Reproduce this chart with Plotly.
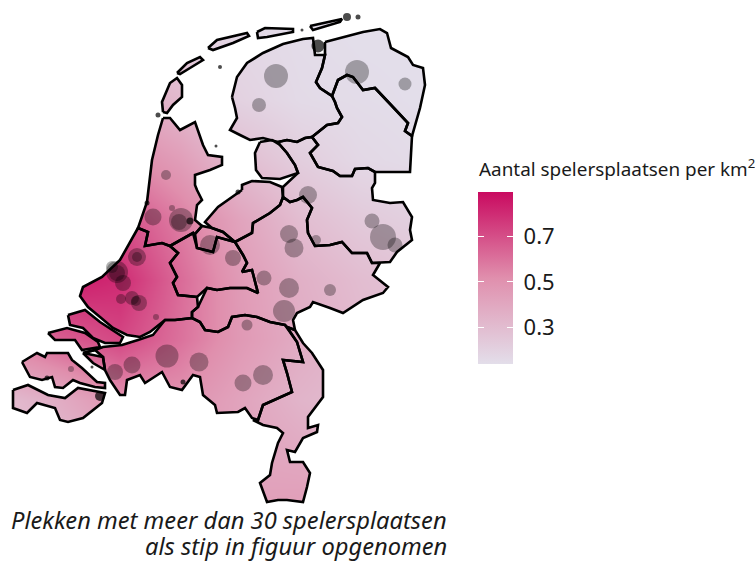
import plotly.graph_objects as go

# Map outlines in map units
friesland = [(232,97),(237,77),(247,63),(263,53),(283,44),(303,39),(313,38),(315,55),(325,55),(322,68),(316,82),(320,88),(332,96),(335,102),(337,108),(342,117),(338,123),(327,125),(317,133),(312,137),(305,138),(297,142),(287,140),(278,142),(263,138),(250,140),(240,135),(230,130),(237,118),(235,108)]
groningen = [(325,42),(343,37),(363,32),(380,29),(387,33),(391,48),(408,57),(413,65),(423,68),(425,85),(420,108),(412,136),(405,131),(408,123),(393,107),(375,88),(363,90),(353,77),(347,75),(338,80),(332,96),(320,88),(316,82),(322,68),(325,55)]
drenthe = [(332,96),(338,80),(347,75),(353,77),(363,90),(375,88),(393,107),(408,123),(405,131),(412,136),(410,172),(393,172),(375,172),(368,168),(355,169),(352,176),(340,176),(333,171),(318,167),(310,153),(318,145),(312,137),(317,133),(327,125),(338,123),(342,117),(337,108),(335,102)]
noordoostpolder = [(260,142),(255,153),(256,170),(262,178),(280,179),(298,173),(295,165),(287,153),(280,145),(272,140)]
flevoland = [(242,190),(242,185),(252,181),(270,182),(282,187),(283,197),(280,205),(270,213),(253,223),(252,233),(235,242),(223,232),(212,228),(205,222),(218,207)]
overijssel = [(283,187),(298,173),(295,165),(287,153),(280,145),(278,142),(287,140),(297,142),(305,138),(312,137),(318,145),(310,153),(318,167),(333,171),(340,176),(352,176),(355,169),(368,168),(375,172),(375,183),(372,188),(373,200),(390,203),(403,202),(412,217),(410,230),(412,240),(397,252),(390,262),(372,263),(367,253),(352,253),(342,242),(330,245),(315,246),(308,233),(307,220),(312,208),(303,197),(297,200),(290,202),(283,197)]
gelderland = [(235,242),(252,233),(253,223),(270,213),(280,205),(283,197),(290,202),(297,200),(303,197),(312,208),(307,220),(308,233),(315,246),(330,245),(342,242),(352,253),(367,253),(372,263),(380,263),(373,275),(388,287),(383,293),(363,300),(343,313),(330,308),(313,302),(310,307),(297,313),(293,320),(295,330),(287,327),(285,325),(270,322),(257,317),(245,315),(232,317),(228,327),(218,332),(205,330),(200,322),(192,318),(192,312),(198,307),(207,288),(217,290),(230,288),(247,288),(258,293),(252,270),(242,272),(247,263),(243,255)]
utrecht = [(170,246),(193,233),(197,248),(213,252),(217,237),(235,242),(243,255),(247,263),(242,272),(252,270),(258,293),(247,288),(230,288),(217,290),(207,288),(197,297),(178,295),(173,283),(177,277),(170,263),(178,253)]
gooi = [(195,234),(202,226),(212,228),(223,232),(235,242),(217,237),(213,252),(197,248)]
noord_holland = [(163,118),(170,118),(180,130),(195,122),(203,145),(208,155),(222,157),(222,165),(210,170),(195,175),(195,185),(197,190),(202,200),(197,205),(195,220),(202,226),(195,234),(193,233),(170,246),(162,243),(145,246),(148,232),(138,228),(147,202),(152,160),(158,135)]
zuid_holland = [(138,228),(148,232),(145,246),(162,243),(170,246),(178,253),(170,263),(177,277),(173,283),(178,295),(197,297),(198,307),(192,312),(192,318),(175,320),(165,320),(150,332),(140,337),(127,335),(113,328),(100,317),(88,307),(80,296),(83,287),(102,277),(120,260)]
voorne = [(68,315),(85,310),(100,322),(123,337),(120,343),(105,343),(93,338),(83,328),(70,325)]
overflakkee = [(48,333),(67,328),(85,333),(98,342),(100,347),(82,350),(75,340),(55,340)]
noord_brabant = [(83,353),(95,350),(103,347),(122,345),(138,340),(153,335),(165,320),(175,320),(192,318),(200,322),(205,330),(218,332),(228,327),(232,317),(245,315),(257,317),(270,322),(285,325),(297,342),(303,362),(283,360),(287,373),(292,392),(263,405),(258,420),(252,418),(245,408),(238,412),(217,413),(215,405),(203,395),(200,377),(193,375),(182,390),(170,387),(162,372),(145,383),(140,375),(127,380),(125,395),(120,395),(110,380),(105,370),(103,357)]
limburg = [(287,327),(295,330),(303,343),(312,353),(323,370),(323,397),(308,417),(308,428),(318,425),(317,432),(303,438),(295,452),(287,450),(290,462),(303,462),(310,473),(307,487),(303,502),(287,500),(278,500),(267,502),(260,483),(270,475),(272,463),(278,443),(283,433),(277,428),(263,425),(253,420),(258,420),(263,405),(292,392),(287,373),(283,360),(303,362),(297,342)]
walcheren = [(22,362),(37,353),(45,357),(47,353),(68,353),(72,360),(82,368),(93,378),(97,382),(105,383),(105,388),(95,387),(80,383),(73,380),(63,388),(55,387),(52,377),(42,380),(30,377)]
tholen = [(83,353),(95,350),(103,357),(105,370),(93,363)]
zeeuws_vlaanderen = [(13,390),(28,385),(48,395),(65,398),(78,388),(88,390),(105,393),(102,403),(83,418),(68,422),(60,420),(55,408),(37,403),(27,413),(13,408)]
texel = [(163,112),(162,102),(170,83),(177,78),(182,85),(182,97),(173,105),(167,113)]
vlieland = [(177,73),(187,63),(200,57),(203,60),(190,68),(180,74)]
terschelling = [(208,48),(217,40),(247,33),(249,36),(233,43),(213,50)]
ameland = [(257,32),(265,28),(293,29),(293,32),(267,37),(258,38)]
schiermonnikoog = [(310,26),(342,19),(340,22),(313,30)]
land_parts = [friesland, groningen, drenthe, noordoostpolder, flevoland, overijssel, gelderland, utrecht, gooi,
              noord_holland, zuid_holland, voorne, overflakkee, noord_brabant, limburg, walcheren, tholen,
              zeeuws_vlaanderen, texel, vlieland, terschelling, ameland, schiermonnikoog]

islet_x = [347,358,220,158,302,216,183,100,47,147,190,318,238,92]
islet_y = [17,17,67,115,30,146,382,396,378,203,221,46,192,367]
islet_size = [8,5,4,5,3,3,5,10,5,5,7,13,5,3]

# Density field
grid_x = [0,60,120,180,240,300,360,430]
grid_y = [30,100,160,220,280,340,400,460,520]
density = [
    [.30,.28,.24,.22,.17,.15,.14,.14],
    [.40,.42,.40,.32,.20,.16,.15,.14],
    [.55,.58,.55,.45,.30,.22,.17,.15],
    [.65,.72,.70,.57,.42,.30,.24,.20],
    [.70,.85,.80,.62,.46,.36,.30,.26],
    [.55,.65,.72,.60,.47,.38,.32,.28],
    [.30,.38,.50,.50,.42,.34,.30,.28],
    [.25,.30,.35,.42,.42,.40,.35,.30],
    [.25,.30,.35,.40,.44,.46,.38,.30],
]
colors = [[0,"#E3DEEA"],[0.5,"#E08FAD"],[1,"#C90A60"]]
color_ticks = [0.3,0.5,0.7]
color_tick_labels = ["\u00a00.3","\u00a00.5","\u00a00.7"]

# Places with more than 30 playgrounds
spot_x = [276,259,357,405,166,153,172,181,179,210,233,137,137,117,112,117,123,121,132,136,139,156,308,289,294,316,264,289,330,284,247,372,383,395,199,263,243,167,132,115,71]
spot_y = [76,105,72,84,175,217,208,220,222,245,258,257,257,272,267,273,283,299,298,301,303,317,195,234,248,240,278,288,290,311,325,221,237,245,362,375,383,356,365,372,369]
spot_d = [24,14,24,13,10,17,6,24,16,20,16,18,10,22,12,16,16,10,14,10,16,6,18,18,19,10,15,20,12,22,11,15,26,15,19,20,17,23,17,16,6]

title_text = "Aantal spelersplaatsen per km<sup>2</sup>"
caption_1 = "Plekken met meer dan 30 spelersplaatsen"
caption_2 = "als stip in figuur opgenomen"
FONT = "Noto Sans"
ZMIN, ZMAX = 0.1415, 0.892


def area(p):
    return sum(p[i][0]*p[(i+1) % len(p)][1] - p[(i+1) % len(p)][0]*p[i][1] for i in range(len(p)))


def oriented(p, positive):
    return p if (area(p) > 0) == positive else p[::-1]


bar_y = (561-364)/561
fig = go.Figure()
fig.add_trace(go.Heatmap(x=grid_x, y=grid_y, z=density, zsmooth="best", zmin=ZMIN, zmax=ZMAX,
                         colorscale=colors, hoverinfo="skip",
                         colorbar=dict(x=478/755, xanchor="left", xpad=0, y=bar_y, yanchor="bottom", ypad=0,
                                       thickness=35, thicknessmode="pixels", len=172, lenmode="pixels",
                                       tickvals=color_ticks, ticktext=color_tick_labels, ticks="inside", ticklen=6,
                                       tickcolor="white", tickwidth=1, outlinewidth=0, borderwidth=0,
                                       tickfont=dict(family=FONT, size=22, color="#1a1a1a"))))
# Narrow strip on the bar's left edge that carries the mirrored tick marks
fig.add_trace(go.Heatmap(x=grid_x, y=grid_y, z=density, zsmooth="best", zmin=ZMIN, zmax=ZMAX,
                         colorscale=colors, hoverinfo="skip",
                         colorbar=dict(x=478/755, xanchor="left", xpad=0, y=bar_y, yanchor="bottom", ypad=0,
                                       thickness=6, thicknessmode="pixels", len=172, lenmode="pixels",
                                       tickvals=color_ticks, showticklabels=False, ticks="inside", ticklen=6,
                                       tickcolor="white", tickwidth=1, outlinewidth=0, borderwidth=0)))

# White sheet with land-shaped holes so the field only shows on land
outer = oriented([(-40,-10),(475,-10),(475,561),(-40,561)], True)
mask_x, mask_y = [p[0] for p in outer]+[outer[0][0]], [p[1] for p in outer]+[outer[0][1]]
for part in land_parts:
    ring = oriented(part, False)
    mask_x += [None]+[p[0] for p in ring]+[ring[0][0]]
    mask_y += [None]+[p[1] for p in ring]+[ring[0][1]]
fig.add_trace(go.Scatter(x=mask_x, y=mask_y, mode="lines", fill="toself", fillcolor="white",
                         line=dict(width=0), hoverinfo="skip", showlegend=False))

for part in land_parts:
    fig.add_trace(go.Scatter(x=[p[0] for p in part]+[part[0][0]], y=[p[1] for p in part]+[part[0][1]],
                             mode="lines", line=dict(color="black", width=2.6), hoverinfo="skip", showlegend=False))
fig.add_trace(go.Scatter(x=islet_x, y=islet_y, mode="markers", marker=dict(color="black", size=islet_size, line=dict(width=0)),
                         hoverinfo="skip", showlegend=False))
fig.add_trace(go.Scatter(x=spot_x, y=spot_y, mode="markers",
                         marker=dict(color="black", size=spot_d, sizemode="diameter", opacity=0.3, line=dict(width=0)),
                         showlegend=False))

fig.update_layout(width=755, height=561, margin=dict(l=0, r=0, t=0, b=0), autosize=False,
                  paper_bgcolor="white", plot_bgcolor="white",
                  xaxis=dict(range=[0,755], visible=False, fixedrange=True),
                  yaxis=dict(range=[561,0], visible=False, fixedrange=True),
                  annotations=[
                      dict(x=477, y=168, xref="x", yref="y", text=title_text, showarrow=False, xanchor="left",
                           font=dict(family=FONT, size=18.9, color="#1a1a1a")),
                      dict(x=449, y=520, xref="x", yref="y", text=caption_1, showarrow=False, xanchor="right",
                           font=dict(family=FONT, size=23.7, color="#1a1a1a", style="italic")),
                      dict(x=449, y=546, xref="x", yref="y", text=caption_2, showarrow=False, xanchor="right",
                           font=dict(family=FONT, size=23.7, color="#1a1a1a", style="italic")),
                  ])
fig.write_html("out.html", config={"displayModeBar": False}, post_script="document.body.style.margin='0';")
